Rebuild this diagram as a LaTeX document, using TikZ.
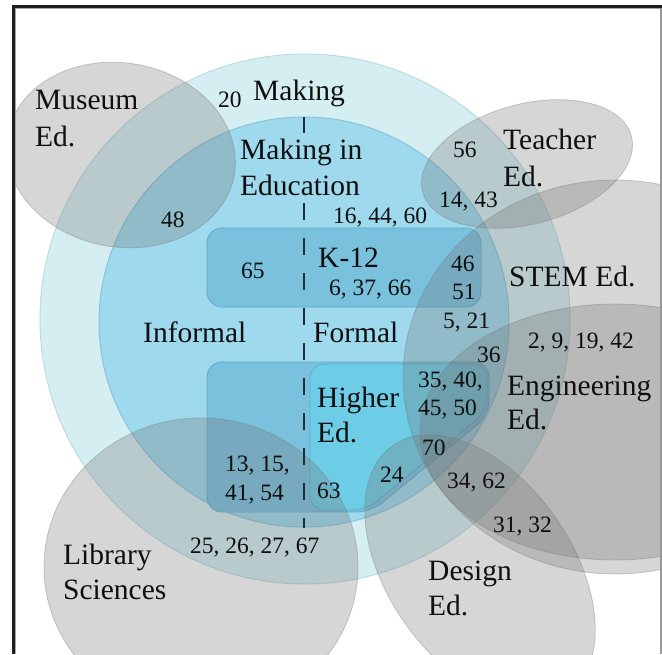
\documentclass[tikz,border=0pt]{standalone}
\usepackage{fontspec}
\setmainfont{Liberation Serif}
\definecolor{outerc}{RGB}{213,238,241}
\definecolor{outeredge}{RGB}{188,220,226}
\definecolor{innerc}{RGB}{158,217,237}
\definecolor{inneredge}{RGB}{135,195,218}
\definecolor{boxc}{RGB}{122,193,221}
\definecolor{boxedge}{RGB}{100,168,202}
\definecolor{highc}{RGB}{109,205,230}
\definecolor{highedge}{RGB}{90,175,205}
\definecolor{setgray}{RGB}{115,115,115}
\definecolor{dashc}{RGB}{28,45,60}
\definecolor{textc}{RGB}{15,15,15}
\begin{document}
\begin{tikzpicture}[x=1pt,y=1pt,
  lbl/.style={font=\fontsize{29.5}{35.5}\selectfont, text=textc, anchor=base west, inner sep=0pt},
  num/.style={font=\fontsize{23.5}{28}\selectfont, text=textc, anchor=base west, inner sep=0pt},
  grayset/.style={fill=setgray, fill opacity=0.29, draw=setgray, draw opacity=0.35, line width=0.8pt},
  dashline/.style={draw=dashc, line width=2pt},
  framedark/.style={draw=black!88, line width=3pt},
  framelight/.style={draw=black!35, line width=1pt}]

\useasboundingbox (0,0) rectangle (662,-654);
\fill[white] (0,0) rectangle (662,-654);

\begin{scope}
  \clip (15,-8) rectangle (661,-654);
  % Making, and Making in Education
  \filldraw[fill=outerc, draw=outeredge, line width=1pt] (305,-319) circle [radius=265];
  \filldraw[fill=innerc, draw=inneredge, line width=1pt] (304,-322) circle [radius=205];
  % K-12, the informal band and Higher Ed.
  \filldraw[fill=boxc, draw=boxedge, line width=0.8pt, rounded corners=15pt]
    (207,-228) rectangle (481,-307);
  \filldraw[fill=boxc, draw=boxedge, line width=0.8pt, rounded corners=15pt]
    (207,-362) -- (489,-362) -- (489,-415) -- (371,-512) -- (207,-512) -- cycle;
  \filldraw[fill=highc, draw=highedge, line width=0.8pt, rounded corners=14pt]
    (310,-364) -- (487,-364) -- (487,-411) -- (366,-510) -- (310,-510) -- cycle;
  % the neighbouring fields
  \path[grayset, rotate around={-10:(121,-155)}] (121,-155) ellipse [x radius=115, y radius=92];
  \path[grayset, rotate around={15:(527,-164)}] (527,-164) ellipse [x radius=108, y radius=60];
  \path[grayset] (615,-377) ellipse [x radius=212, y radius=197];
  \path[grayset] (615,-432) ellipse [x radius=195, y radius=128];
  \path[grayset] (201,-567) ellipse [x radius=157, y radius=149];
  \path[grayset, rotate around={-55:(480,-570)}] (480,-570) ellipse [x radius=152, y radius=92];
  % informal / formal divide
  \coordinate (d1a) at (304,-117);
  \coordinate (d1b) at (304,-133);
  \coordinate (d2a) at (304,-203);
  \coordinate (d2b) at (304,-528);
  \draw[dashline] (d1a) -- (d1b);
  \draw[dashline, dash pattern=on 17pt off 18pt] (d2a) -- (d2b);
\end{scope}

% frame
\draw[framelight] (15.5,-654) -- (15.5,-8.5) -- (662,-8.5);
\draw[framedark] (13.5,-654) -- (13.5,-6.5) -- (662,-6.5);
\draw[draw=black!40, line width=1.2pt] (661,-8) -- (661,-654);

% field names
\node[lbl] (museum1) at (35,-109) {Museum};
\node[lbl] (museum2) at (35,-146) {Ed.};
\node[lbl] (making) at (253,-100) {Making};
\node[lbl] (mined1) at (240,-159) {Making in};
\node[lbl] (mined2) at (240,-195) {Education};
\node[lbl] (teacher1) at (503,-149) {Teacher};
\node[lbl] (teacher2) at (503,-186) {Ed.};
\node[lbl] (k12) at (318,-267) {K-12};
\node[lbl] (stem) at (509,-286) {STEM Ed.};
\node[lbl] (informal) at (143,-342) {Informal};
\node[lbl] (formal) at (313,-342) {Formal};
\node[lbl] (eng1) at (507,-395) {Engineering};
\node[lbl] (eng2) at (507,-429) {Ed.};
\node[lbl] (higher1) at (317,-407) {Higher};
\node[lbl] (higher2) at (317,-442) {Ed.};
\node[lbl] (lib1) at (63,-564) {Library};
\node[lbl] (lib2) at (63,-599) {Sciences};
\node[lbl] (design1) at (428,-580) {Design};
\node[lbl] (design2) at (428,-615) {Ed.};

% paper numbers
\node[num] (n20) at (218,-107) {20};
\node[num] (n48) at (161,-227) {48};
\node[num] (n65) at (241,-278) {65};
\node[num] (n56) at (453,-157) {56};
\node[num] (n1443) at (439,-207) {14, 43};
\node[num] (n164460) at (333,-223) {16, 44, 60};
\node[num] (n63766) at (329,-295) {6, 37, 66};
\node[num] (n46) at (451,-271) {46};
\node[num] (n51) at (452,-299) {51};
\node[num] (n521) at (443,-328) {5, 21};
\node[num] (n291942) at (528,-348) {2, 9, 19, 42};
\node[num] (n36) at (477,-362) {36};
\node[num] (n3540) at (418,-387) {35, 40,};
\node[num] (n4550) at (418,-415) {45, 50};
\node[num] (n70) at (422,-455) {70};
\node[num] (n24) at (380,-482) {24};
\node[num] (n3462) at (447,-488) {34, 62};
\node[num] (n3132) at (493,-532) {31, 32};
\node[num] (n1315) at (225,-471) {13, 15,};
\node[num] (n4154) at (225,-500) {41, 54};
\node[num] (n63) at (317,-498) {63};
\node[num] (n25) at (190,-553) {25, 26, 27, 67};
\end{tikzpicture}
\end{document}
